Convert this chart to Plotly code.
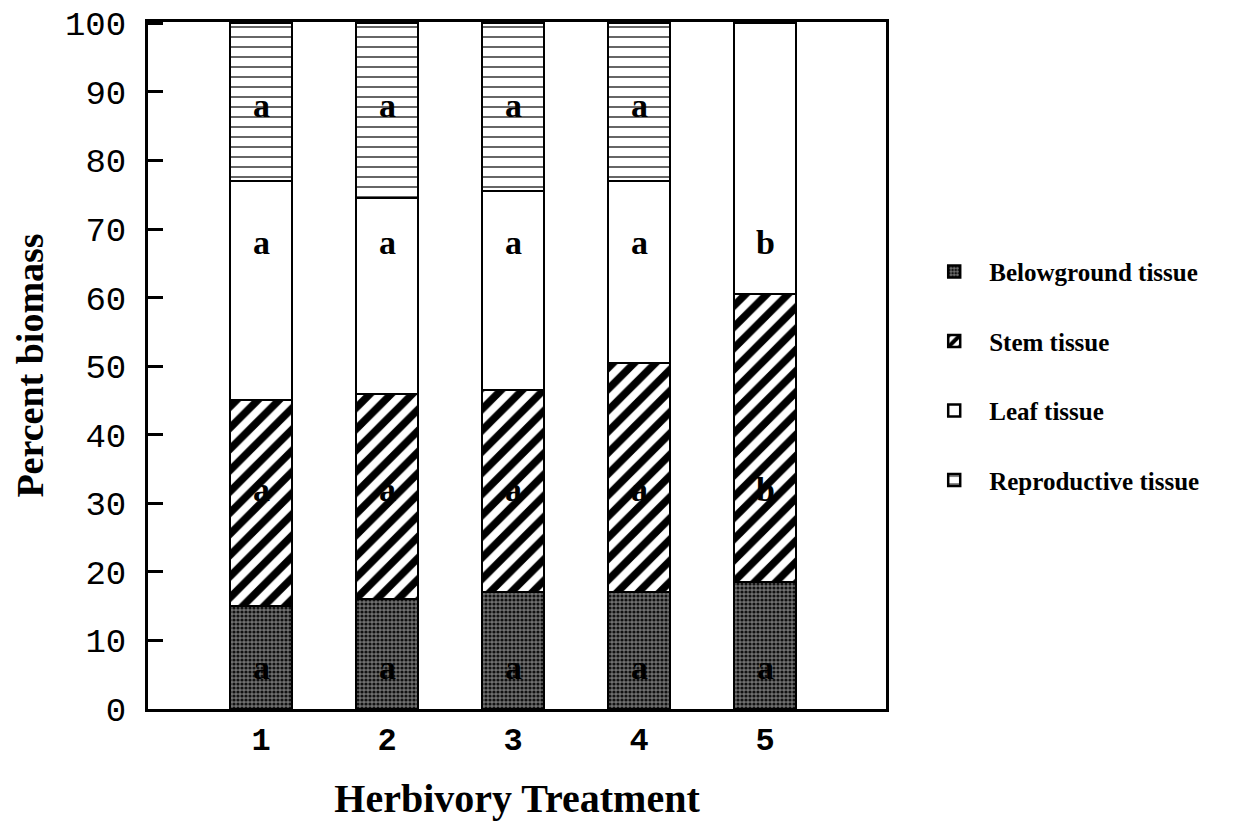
import plotly.graph_objects as go

treatments = ["1", "2", "3", "4", "5"]
belowground = [15, 16, 17, 17, 18.5]
stem = [30, 30, 29.5, 33.5, 42]
leaf = [32, 28.5, 29, 26.5, 39.5]
reproductive = [23, 25.5, 24.5, 23, 0]

below_letters = ["a", "a", "a", "a", "a"]
stem_letters = ["a", "a", "a", "a", "b"]
leaf_letters = ["a", "a", "a", "a", "b"]
repro_letters = ["a", "a", "a", "a", ""]

x = [1, 2, 3, 4, 5]
serif = "Liberation Serif, Times New Roman, serif"
mono = "Liberation Mono, Courier New, monospace"

fig = go.Figure()
series = [
    ("Belowground tissue", belowground,
     dict(color="#555555", pattern=dict(shape=".", fgcolor="#111111", bgcolor="#707070", size=4, solidity=0.5, fgopacity=1))),
    ("Stem tissue", stem,
     dict(color="white", pattern=dict(shape="/", fgcolor="black", bgcolor="white", size=15, solidity=0.5, fgopacity=1))),
    ("Leaf tissue", leaf, dict(color="white")),
    ("Reproductive tissue", reproductive,
     dict(color="white", pattern=dict(shape="-", fgcolor="#333333", bgcolor="white", size=10, solidity=0.15, fgopacity=1))),
]
for i, (name, vals, mk) in enumerate(series):
    fig.add_trace(go.Bar(
        x=x, y=vals, name="<b>" + name + "</b>", width=0.49,
        legendgroup=str(i),
        marker=dict(line=dict(color="black", width=2.5), **mk),
    ))

# significance letters, one row per tissue layer
letter_rows = [(below_letters, 6), (stem_letters, 32), (leaf_letters, 68), (repro_letters, 88)]
for letters, ly in letter_rows:
    for k in range(len(x)):
        if letters[k]:
            fig.add_annotation(x=x[k], y=ly, text="<b>" + letters[k] + "</b>",
                               showarrow=False, font=dict(family=serif, size=34, color="black"))

fig.update_layout(
    barmode="stack",
    width=1256, height=833,
    plot_bgcolor="white", paper_bgcolor="white",
    margin=dict(l=140, r=378, t=14, b=132),
    bargap=0,
    legend=dict(x=1.045, y=0.485, yanchor="middle", traceorder="grouped", tracegroupgap=34, itemwidth=60,
                font=dict(family=serif, size=25, color="black"), bgcolor="rgba(0,0,0,0)"),
    xaxis=dict(range=[0.103, 5.96], tickmode="array", tickvals=x, ticktext=["<b>%s</b>" % t for t in treatments],
               tickfont=dict(family=mono, size=32, color="black"), ticks="", showgrid=False, zeroline=False,
               showline=True, linecolor="black", linewidth=3, mirror=True, automargin=False,
               title=dict(text="<b>Herbivory Treatment</b>", font=dict(family=serif, size=40, color="black"), standoff=25)),
    yaxis=dict(range=[0, 100.2], tickvals=list(range(0, 101, 10)), ticks="inside", ticklen=15, tickwidth=2.5,
               tickcolor="black", tickfont=dict(family=mono, size=34, color="black"), ticklabelstandoff=12,
               ticklabeloverflow="allow", automargin=False,
               showgrid=False, zeroline=False,
               showline=True, linecolor="black", linewidth=3, mirror=True,
               title=dict(text="<b>Percent biomass</b>", font=dict(family=serif, size=38, color="black"), standoff=10)),
)

fig.write_html("out.html")
